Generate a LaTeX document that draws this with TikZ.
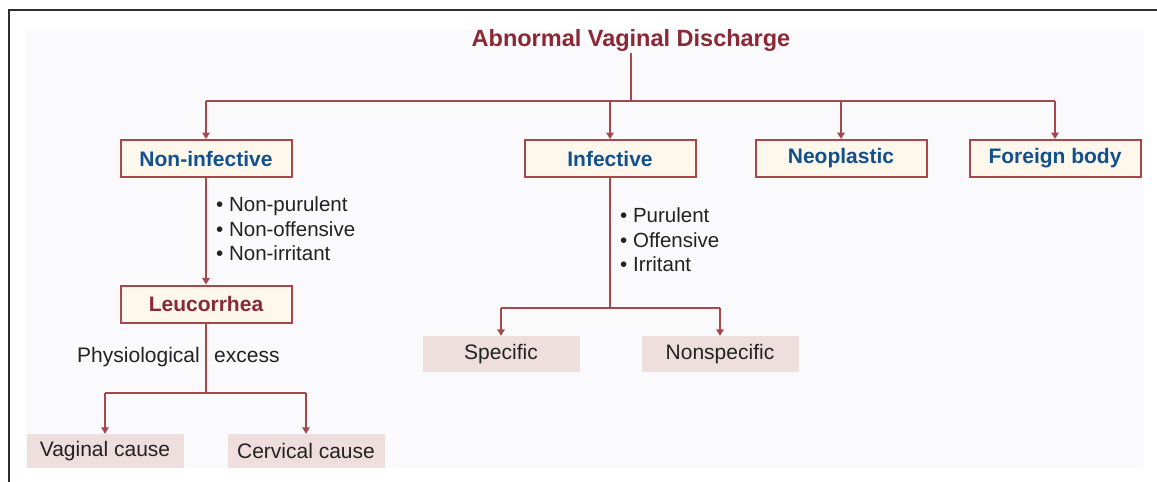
\documentclass[tikz,border=0pt]{standalone}
\usepackage{fontspec}
\setmainfont{Liberation Sans}
\usetikzlibrary{arrows.meta}
\definecolor{linered}{HTML}{A5474B}
\definecolor{titlered}{HTML}{8A2835}
\definecolor{boxblue}{HTML}{13508E}
\definecolor{cream}{HTML}{FDF7EC}
\definecolor{pinkbox}{HTML}{EEDFDE}
\definecolor{panel}{HTML}{FAFAFC}
\definecolor{textgray}{HTML}{222222}
\begin{document}
\begin{tikzpicture}[x=1pt,y=-1pt,
 conn/.style={draw=linered, line width=1.8pt},
 arr/.style={conn, -{Triangle[length=6.5pt,width=7.5pt]}},
 topbox/.style={draw=linered, line width=2pt, fill=cream, minimum width=171pt, minimum height=37pt, inner sep=0pt, font=\fontsize{21}{25}\selectfont\bfseries, text=boxblue},
 leafbox/.style={fill=pinkbox, minimum width=157pt, minimum height=35pt, inner sep=0pt, font=\fontsize{21}{25}\selectfont, text=textgray},
 note/.style={font=\fontsize{20.5}{24.5}\selectfont, align=left, anchor=west, inner sep=0pt, text=textgray},
 plain/.style={font=\fontsize{21}{25}\selectfont, inner sep=0pt, text=textgray}
]
\useasboundingbox (0,0) rectangle (1157,482);
\fill[white] (0,0) rectangle (1157,482);
\fill[panel] (26,29) rectangle (1143,468);
\draw[line width=2.8pt, black!82] (9,482) -- (9,10) -- (1157,10);

\node[font=\fontsize{23.5}{28}\selectfont\bfseries, text=titlered, inner sep=2pt] (title) at (631,40) {Abnormal Vaginal Discharge};

\node[topbox] (noninf) at (206,158.5) {Non-infective};
\node[topbox] (inf) at (610,158.5) {Infective};
\node[topbox] (neo) at (841,158.5) {Neoplastic};
\node[topbox] (fb) at (1055,158.5) {Foreign body};
\node[topbox, text=titlered] (leuc) at (206,304) {Leucorrhea};

\node[leafbox, minimum height=36pt] (spec) at (501,354) {Specific};
\node[leafbox, minimum height=36pt] (nonspec) at (720,354) {Nonspecific};
\node[leafbox, minimum height=34pt] (vag) at (105,451) {Vaginal cause};
\node[leafbox, minimum height=34pt] (cerv) at (306,451) {Cervical cause};

\coordinate (hub) at (631,101);
\draw[conn] (title.south) -- (hub);
\draw[conn] (noninf.north |- hub) -- (fb.north |- hub);
\foreach \n in {noninf,inf,neo,fb} \draw[arr] (\n.north |- hub) -- (\n.north);

\draw[arr] (noninf.south) -- (leuc.north);
\node[note] (nibul) at (216,229) {• Non-purulent\\• Non-offensive\\• Non-irritant};

\coordinate (ib) at (610,308);
\draw[conn] (inf.south) -- (ib);
\draw[conn] (spec.north |- ib) -- (nonspec.north |- ib);
\draw[arr] (spec.north |- ib) -- (spec.north);
\draw[arr] (nonspec.north |- ib) -- (nonspec.north);
\node[note] (ibul) at (620,240) {• Purulent\\• Offensive\\• Irritant};

\coordinate (lb) at (206,393);
\draw[conn] (leuc.south) -- (lb);
\draw[conn] (vag.north |- lb) -- (cerv.north |- lb);
\draw[arr] (vag.north |- lb) -- (vag.north);
\draw[arr] (cerv.north |- lb) -- (cerv.north);
\node[plain, anchor=east] (phys) at (200,357) {Physiological};
\node[plain, anchor=west] (exc) at (214,357) {excess};
\end{tikzpicture}
\end{document}
